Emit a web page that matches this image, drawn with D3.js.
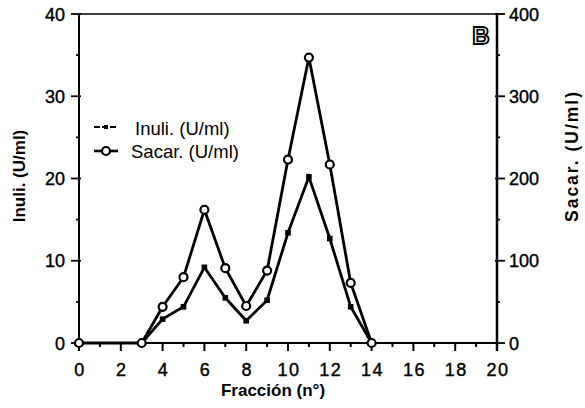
<!DOCTYPE html>
<html>
<head>
<meta charset="utf-8">
<script src="https://cdn.jsdelivr.net/npm/d3@7"></script>
<style>
  html, body { margin: 0; padding: 0; background: #fff; }
  svg { display: block; font-family: "Liberation Sans", Arial, sans-serif; }
</style>
</head>
<body>
<svg id="chart" width="585" height="408"></svg>
<script>
// ---- data ----
const inuliFraction = [3, 4, 5, 6, 7, 8, 9, 10, 11, 12, 13, 14];
const inuliValues   = [0, 2.9, 4.4, 9.2, 5.5, 2.7, 5.2, 13.4, 20.2, 12.7, 4.4, 0];
const sacarFraction = [0, 3, 4, 5, 6, 7, 8, 9, 10, 11, 12, 13, 14];
const sacarValues   = [0, 0, 44, 80, 162, 91, 45, 88, 223, 347, 217, 73, 0];
const xTicks = [0, 2, 4, 6, 8, 10, 12, 14, 16, 18, 20];
const leftTicks = [0, 10, 20, 30, 40];
const rightTicks = [0, 100, 200, 300, 400];
const seriesNames = ["Inuli. (U/ml)", "Sacar. (U/ml)"];

const svg = d3.select("#chart");
const L = 79, R = 497, T = 14, B = 343;

const x = d3.scaleLinear().domain([0, 20]).range([L, R]);
const yL = d3.scaleLinear().domain([0, 40]).range([B, T]);
const yR = d3.scaleLinear().domain([0, 400]).range([B, T]);

const tickFont = 18;

// ---- x axis ----
const xAxis = svg.append("g").attr("transform", `translate(0,${B})`);
xAxis.append("line").attr("x1", L).attr("x2", R).attr("stroke", "#000").attr("stroke-width", 2);
d3.range(0, 21).forEach(v => {
  xAxis.append("line").attr("x1", x(v)).attr("x2", x(v)).attr("y1", 0)
    .attr("y2", v % 2 === 0 ? 8 : 4).attr("stroke", "#000").attr("stroke-width", 2);
});
xTicks.forEach(v => {
  xAxis.append("text").attr("x", x(v) + 1).attr("y", 33).attr("text-anchor", "middle")
    .attr("font-size", tickFont).attr("letter-spacing", 1.5)
    .attr("stroke", "#000").attr("stroke-width", 0.4).text(v);
});

// ---- top border ----
svg.append("line").attr("x1", L).attr("x2", R).attr("y1", T).attr("y2", T)
  .attr("stroke", "#000").attr("stroke-width", 1.6);

// ---- left axis ----
const lAxis = svg.append("g");
lAxis.append("line").attr("x1", L).attr("x2", L).attr("y1", T).attr("y2", B + 4)
  .attr("stroke", "#000").attr("stroke-width", 2);
d3.range(0, 41, 5).forEach(v => {
  const major = v % 10 === 0;
  lAxis.append("line").attr("x1", L - (major ? 8 : 3)).attr("x2", L + (major ? 2 : 0))
    .attr("y1", yL(v)).attr("y2", yL(v)).attr("stroke", "#000").attr("stroke-width", 1.8);
});
leftTicks.forEach(v => {
  lAxis.append("text").attr("x", 65).attr("y", yL(v) + 6.5).attr("text-anchor", "end")
    .attr("font-size", tickFont).attr("stroke", "#000").attr("stroke-width", 0.4).text(v);
});

// ---- right axis ----
const rAxis = svg.append("g");
rAxis.append("line").attr("x1", R).attr("x2", R).attr("y1", T).attr("y2", B + 8)
  .attr("stroke", "#000").attr("stroke-width", 2.5);
d3.range(0, 401, 50).forEach(v => {
  const major = v % 100 === 0;
  rAxis.append("line").attr("x1", R - (major ? 2 : 0)).attr("x2", R + (major ? 8 : 3))
    .attr("y1", yR(v)).attr("y2", yR(v)).attr("stroke", "#000").attr("stroke-width", 1.8);
});
rightTicks.forEach(v => {
  rAxis.append("text").attr("x", 509).attr("y", yR(v) + 6.5).attr("text-anchor", "start")
    .attr("font-size", tickFont).attr("stroke", "#000").attr("stroke-width", 0.4).text(v);
});

// ---- axis titles ----
svg.append("text").attr("transform", "translate(25,176) rotate(-90)")
  .attr("text-anchor", "middle").attr("font-size", 17).attr("font-weight", "bold")
  .text(seriesNames[0]);
svg.append("text").attr("transform", "translate(578,156) rotate(-90)")
  .attr("text-anchor", "middle").attr("font-size", 17.5).attr("font-weight", "bold")
  .attr("letter-spacing", 2).text(seriesNames[1]);
svg.append("text").attr("x", 273).attr("y", 396).attr("text-anchor", "middle")
  .attr("font-size", 17).attr("font-weight", "bold").text("Fracción (n°)");

// ---- panel letter ----
svg.append("text").attr("x", 481).attr("y", 44).attr("text-anchor", "middle")
  .attr("font-size", 24).attr("font-weight", "bold").attr("fill", "#fff")
  .attr("stroke", "#000").attr("stroke-width", 1.8).text("B");

// ---- lines ----
const inuliData = inuliFraction.map((f, i) => ({ f, v: inuliValues[i] }));
const sacarData = sacarFraction.map((f, i) => ({ f, v: sacarValues[i] }));

svg.append("path").datum(inuliData)
  .attr("d", d3.line().x(d => x(d.f)).y(d => yL(d.v)))
  .attr("fill", "none").attr("stroke", "#000").attr("stroke-width", 2.8).attr("stroke-linejoin", "miter");
svg.append("path").datum(sacarData)
  .attr("d", d3.line().x(d => x(d.f)).y(d => yR(d.v)))
  .attr("fill", "none").attr("stroke", "#000").attr("stroke-width", 2.8).attr("stroke-linejoin", "miter");

svg.selectAll(".inuliPt").data(inuliData).enter().append("rect")
  .attr("x", d => x(d.f) - 2.8).attr("y", d => yL(d.v) - 2.8)
  .attr("width", 5.6).attr("height", 5.6).attr("fill", "#000");
svg.selectAll(".sacarPt").data(sacarData).enter().append("circle")
  .attr("cx", d => x(d.f)).attr("cy", d => yR(d.v)).attr("r", 4)
  .attr("fill", "#fff").attr("stroke", "#000").attr("stroke-width", 2.2);

// ---- legend ----
const lg = svg.append("g");
lg.append("line").attr("x1", 94).attr("x2", 118).attr("y1", 127).attr("y2", 127)
  .attr("stroke", "#000").attr("stroke-width", 2).attr("stroke-dasharray", "6,2");
lg.append("rect").attr("x", 104).attr("y", 125).attr("width", 4).attr("height", 4).attr("fill", "#000");
lg.append("text").attr("x", 135).attr("y", 134.5).attr("font-size", 18.5).text(seriesNames[0]);
lg.append("line").attr("x1", 94).attr("x2", 118).attr("y1", 151).attr("y2", 151)
  .attr("stroke", "#000").attr("stroke-width", 2.6);
lg.append("circle").attr("cx", 106).attr("cy", 151).attr("r", 4)
  .attr("fill", "#fff").attr("stroke", "#000").attr("stroke-width", 2.2);
lg.append("text").attr("x", 131).attr("y", 158).attr("font-size", 18.5).text(seriesNames[1]);
</script>
</body>
</html>
